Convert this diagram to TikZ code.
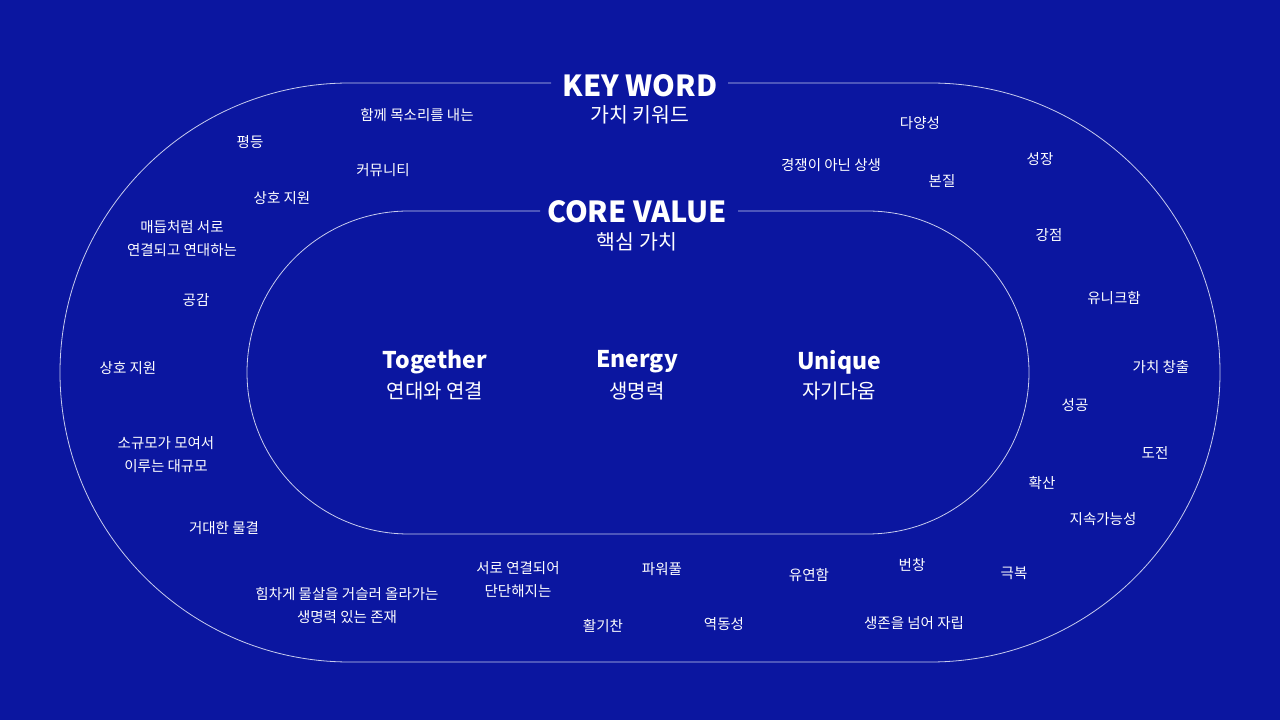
\documentclass[tikz,border=0pt]{standalone}
\usepackage{fontspec}
\setmainfont{Noto Sans CJK KR}
\definecolor{bg}{RGB}{11,22,160}
\definecolor{ln}{RGB}{200,204,238}
\begin{document}
\begin{tikzpicture}[x=1pt,y=1pt,
  kw/.style={text=white, font=\fontsize{14.5}{23}\selectfont, align=center, inner sep=0pt, yshift=-1.5pt},
  ttl/.style={text=white, font=\fontsize{29}{29}\selectfont\bfseries, inner sep=0pt, yshift=-1pt},
  ttlsub/.style={text=white, font=\fontsize{20.5}{24}\selectfont, inner sep=0pt, yshift=-2pt},
  core/.style={text=white, font=\fontsize{23}{24}\selectfont\bfseries, inner sep=0pt, yshift=-3pt},
  coresub/.style={text=white, font=\fontsize{20}{24}\selectfont, inner sep=0pt, yshift=-2pt},
  track/.style={draw=ln, line width=0.8pt}]
\fill[bg] (0,0) rectangle (1280,720);
\useasboundingbox (0,0) rectangle (1280,720);
% outer track
\draw[track] (551,637) -- (349.5,637) arc[start angle=90,end angle=270,radius=289.5]
  -- (930.5,58) arc[start angle=-90,end angle=90,radius=289.5] -- (728,637);
% inner track
\draw[track] (540,509) -- (408.5,509) arc[start angle=90,end angle=270,radius=161.5]
  -- (867.5,186) arc[start angle=-90,end angle=90,radius=161.5] -- (738,509);
\begin{scope}[y=-1pt, yshift=720pt]
\node[ttl] (kwt) at (640,85) {KEY WORD};
\node[ttlsub] (kws) at (640,113) {가치 키워드};
\node[ttl] (cvt) at (637,211) {CORE VALUE};
\node[ttlsub] (cvs) at (637,240) {핵심 가치};
\node[core] (tog) at (435,359) {Together};
\node[coresub] (togs) at (435,389) {연대와 연결};
\node[core] (ene) at (637,359) {Energy};
\node[coresub] (enes) at (637,389) {생명력};
\node[core] (uni) at (839,359) {Unique};
\node[coresub] (unis) at (839,389) {자기다움};
% keywords
\node[kw] (k1) at (417,114) {함께 목소리를 내는};
\node[kw] (k2) at (250,141) {평등};
\node[kw] (k3) at (383,169) {커뮤니티};
\node[kw] (k4) at (282,197) {상호 지원};
\node[kw] (k5) at (182,237.5) {매듭처럼 서로\\연결되고 연대하는};
\node[kw] (k6) at (196,299) {공감};
\node[kw] (k7) at (128,367) {상호 지원};
\node[kw] (k8) at (166,453) {소규모가 모여서\\이루는 대규모};
\node[kw] (k9) at (224,527) {거대한 물결};
\node[kw] (k10) at (347,604.5) {힘차게 물살을 거슬러 올라가는\\생명력 있는 존재};
\node[kw] (k11) at (518,578) {서로 연결되어\\단단해지는};
\node[kw] (k12) at (662,568) {파워풀};
\node[kw] (k13) at (603,625) {활기찬};
\node[kw] (k14) at (724,623) {역동성};
\node[kw] (k15) at (809,574) {유연함};
\node[kw] (k16) at (912,564) {번창};
\node[kw] (k17) at (914,622) {생존을 넘어 자립};
\node[kw] (k18) at (1014,572) {극복};
\node[kw] (k19) at (1103,518) {지속가능성};
\node[kw] (k20) at (1042,482) {확산};
\node[kw] (k21) at (1155,451) {도전};
\node[kw] (k22) at (1075,404) {성공};
\node[kw] (k23) at (1161,366) {가치 창출};
\node[kw] (k24) at (1114,297) {유니크함};
\node[kw] (k25) at (1049,234) {강점};
\node[kw] (k26) at (1040,158) {성장};
\node[kw] (k27) at (920,122) {다양성};
\node[kw] (k28) at (942,180) {본질};
\node[kw] (k29) at (831,164) {경쟁이 아닌 상생};
\end{scope}
\end{tikzpicture}
\end{document}
